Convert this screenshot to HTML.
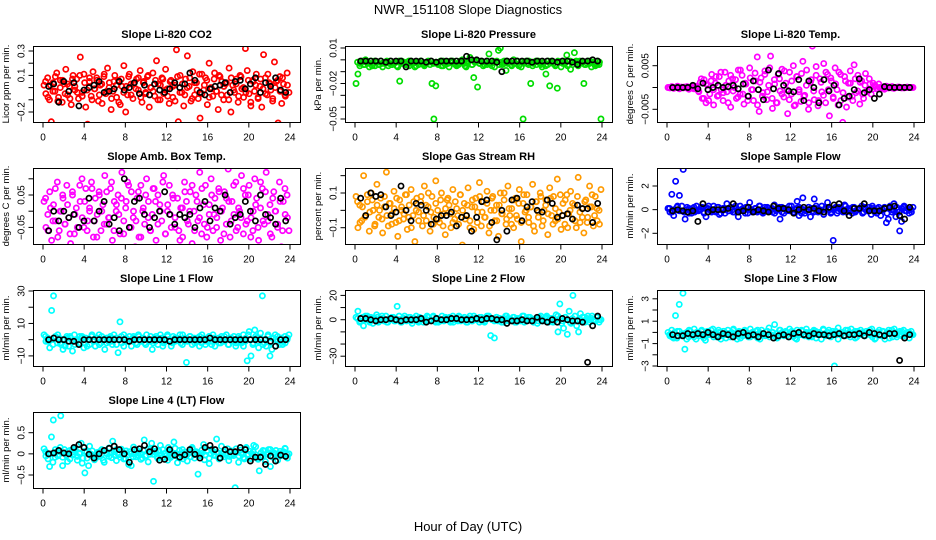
<!DOCTYPE html>
<html><head><meta charset="utf-8"><style>
body{margin:0;background:#fff;}
svg{display:block;font-family:"Liberation Sans",sans-serif;}
</style></head><body>
<svg id="chart" width="936" height="540" viewBox="0 0 936 540">
<text x="468" y="14" text-anchor="middle" font-size="13">NWR_151108  Slope Diagnostics</text>
<text x="468" y="531" text-anchor="middle" font-size="13">Hour of Day (UTC)</text>
</svg>
<script>
// ---- data (values in stated units) ----
const xTicks = [0,4,8,12,16,20,24];
const co2Vals = [2,-5,8,-10,-28,4,-3,12,-8,6,-12,3,15,-6,1,-14,10,-2,7,-9,25,-4,11,-16,-30,5,-7,13,-1,8,-11,2,-13,9,-5,16,4,-18,-3,10,-8,6,-14,1,18,-20,-6,11,3,-9,-32,7,-2,14,-12,5,-4,9,-16,0,12,-7,22,3,-10,8,-5,15,-1,-13,6,-8,2,31,-28,10,-4,-15,7,26,1,-11,13,-6,4,-9,-25,11,-2,8,-14,20,0,-7,12,-3,-18,9,5,-10,3,-6,16,-20,2,-4,7,-12,10,-1,-8,32,14,-5,-15,6,-3,11,-9,1,-16,27,8,-6,4,-2,-11,21,5,-29,9,-13,3,-7,12,-4];
const co2Core = [5,-8,2,-3,9,-11,0,6,-5,3,-9,7,1,-4,10,-7,4,-2,8,-10,-1,6,-6,3,11,-3,0,-9,5,2,-12,7,-4,1,9,-6,3,-1,8,-8,4,-5,10,0,-3,6,-10,2,7,-2,-7,5,1,-11,9,-4,3,-6,0,8,-9,4,-2,11,-5,2,6,-8,-1,7,-3,10,-6,1,4,-10,8,-2,3,-7,9,0,-4,6,-12,5,2,-8,7,-1,-5,11,3,-9,0,6,-3,8,-6,2];
const co2Black = [1,3,-12,5,-3,4,-15,-2,0,2,5,-4,-3,-1,5,-2,0,4,-5,2,-6,3,-2,-4,-1,4,0,3,12,6,-4,-6,-1,1,2,4,-4,5,6,-1,3,8,-4,4,1,8,-2,-4];
const presVals = [-20,-12,-5,-2,-4,0,-3,-6,-1,-3,-5,-2,-4,-1,-6,-3,-2,-5,-1,-4,-3,-2,-6,-18,-1,-3,-4,-2,-5,-1,-3,-6,-2,-4,-1,-3,-5,-2,-1,-4,-20,-50,-22,-3,-2,-5,-1,-4,-3,-6,-2,-1,-3,-5,-4,-2,0,-3,-6,-1,2,-4,-15,-2,-23,-3,-1,-5,-2,-4,5,-3,-1,-6,-2,8,10,-4,-1,-9,-3,-2,-5,0,-3,-1,-4,-6,-50,-2,-3,-1,-20,-5,-2,-4,-1,-3,-6,-2,-12,-4,-22,-1,-3,-5,-24,-2,-6,-1,-3,4,-4,-8,-2,6,-1,-5,-3,-2,-20,-4,-1,-3,-6,-2,-5,-1,-4,-50];
const presCore = [-2,-3,-1,-4,-2,-3,-5,-1,-2,-4,-3,-2,-1,-3,-4,-2,-5,-1,-3,-2,-4,-1,-3,-2,-5,-2,-1,-4,-3,-2,-1,-3,-2,-4,-1,-5,-2,-3,-1,-2,-4,-3,-1,-2,-5,-3,0,-4,-2,-1,-3,-2,-4,-1,-3,-5,-2,-1,-4,-2,-3,-1,-2,-4,-3,-1,-5,-2,-3,-1,-4,-2,-3,-1,-2,-4,-3,-5,-1,-2,-3,-4,-1,-2,-3,-2,-5,-1,-4,-2,-3,-1,-2,-4,-3,-1,-2,-3,-4,-2];
const presBlack = [-1,-1,-1,-1,-1,-2,-1,-1,-1,-6,-1,-1,-1,-2,-1,-2,-1,-1,-1,-1,-1,3,0,0,-1,-1,-1,-2,-10,-1,-1,-1,-1,-1,-2,-1,-1,-1,-1,-2,-1,-1,-2,-4,-1,-1,0,-1];
const tempVals = [0,-1,2,-2,0,3,-3,1,-1,0,2,-4,1,-2,0,3,-8,12,-25,18,-35,5,-15,30,-40,10,-20,25,-5,-30,35,-10,15,-45,20,0,-25,40,-15,28,-38,8,-20,45,-5,-30,15,70,-55,22,-12,38,-28,5,72,-48,18,-35,30,-8,42,-22,10,-60,35,-15,50,-40,25,-5,-32,60,-18,40,-50,12,95,-28,48,-42,20,-10,55,-35,30,-65,15,-22,45,-5,35,-30,-80,25,-45,10,38,-20,52,-12,28,-38,15,-25,32,-8,20,-15,10,5,-3,8,-2,0,-4,3,-1,0,2,-2,0,1,0,-1,0,0,1,0,0,0];
const tempCore = [0,1,-1,2,-2,0,1,-1,0,2,-3,1,-10,20,-25,8,-30,15,-5,25,-18,35,-12,5,-35,28,-8,18,-22,40,-15,10,-30,22,-5,33,-40,12,-20,30,-10,45,-25,8,-35,20,-15,38,-5,-28,15,-42,25,-10,32,-20,5,-35,18,-8,28,-30,12,-18,35,-5,22,-25,8,-40,30,-12,15,-22,10,-30,20,-8,12,-15,5,-10,8,-4,2,-3,0,1,-2,0,1,-1,0,0,1,0,-1,0,0,0];
const tempBlack = [0,0,0,0,5,-3,10,-5,0,5,0,2,5,-3,8,-20,15,-5,-28,40,-3,32,5,-8,-10,18,-30,15,0,-35,18,-8,5,-40,-25,-20,-5,20,-12,-5,-25,-15,2,0,0,0,0,0];
const ambVals = [3,-5,-1,6,-9,2,-3,9,-6,0,4,-4,8,-2,-10,5,-7,1,-12,3,10,-5,7,-3,0,9,-8,4,-1,6,-6,2,11,-4,-2,7,-9,3,0,5,-7,12,-3,1,9,-5,6,-2,-11,4,-8,8,0,-4,10,3,-6,-1,7,-9,5,2,-3,11,-7,0,8,-5,4,-2,14,-6,1,-8,9,3,-4,6,-10,0,5,-3,12,-7,2,8,-5,-1,10,-6,4,-2,7,-9,1,6,-4,13,-8,3,-1,9,-5,0,11,-7,5,-3,8,-2,-6,10,4,-9,1,7,-4,12,-3,2,-8,6,0,-5,9,-11,3,-1,5,-6];
const ambCore = [4,-6,1,-3,7,-8,0,5,-4,2,-7,6,-1,-5,8,-2,3,-6,1,7,-3,-8,5,0,-4,6,-2,9,-6,2,-1,4,-7,3,8,-5,0,-3,6,-8,1,5,-2,-6,7,3,-4,0,9,-7,2,-1,5,-5,4,-9,1,6,-3,0,8,-6,3,-2,7,-4,-8,2,5,-1,-5,6,0,-7,4,3,-3,8,-6,1,-2,7,-4,5,-8,0,2,-5,9,-3,6,-1,-7,4,0,-4,3,-6,7,-2];
const ambBlack = [-6,0,-3,0,-2,-1,-5,-3,4,-3,0,3,-4,-2,-6,10,-5,3,4,-1,-5,-2,0,6,-1,-4,-1,-2,-1,-5,1,3,-3,1,0,5,-4,-2,-1,3,0,-3,5,-1,-2,-4,4,-3];
const rhVals = [8,-10,3,-6,20,-3,5,-12,10,0,-8,15,-4,7,-13,2,22,-9,4,-2,11,-7,-15,6,0,-5,9,-11,3,12,-3,-18,7,-1,5,-9,14,-6,2,-12,8,-4,17,0,-7,10,-2,-14,6,3,-10,12,-5,1,-8,9,-20,4,-3,13,-6,2,-11,7,-1,16,-9,5,-4,11,-13,0,8,-6,3,-15,10,-2,6,-8,14,-3,1,-10,7,-5,12,-18,4,-1,9,-7,2,15,-12,5,-4,10,-9,0,6,-14,13,-3,8,-6,18,-1,-11,4,-8,9,-2,11,-5,3,-10,19,-7,1,-13,6,-4,14,2,-9,8,-6,0,12];
const rhCore = [5,-7,2,-4,9,-1,6,-9,3,0,-5,8,-3,4,-8,1,7,-6,2,-2,9,-4,-10,5,0,-6,8,-3,3,10,-1,-8,4,-5,6,-9,1,7,-2,-7,5,-3,9,0,-5,3,-10,6,2,-7,8,-1,-4,4,-9,7,0,-6,3,-2,10,-5,1,-8,6,-3,4,-7,9,0,-4,2,-9,5,-1,8,-6,3,-2,7,-8,1,-5,9,-3,6,-10,0,4,-6,8,-1,-4,5,-7,2,9,-3,1,-8];
const rhBlack = [7,-3,10,8,9,2,-3,-1,14,0,-6,4,3,0,-8,-5,-3,-3,-1,-9,-4,-3,-12,-4,5,6,-7,-17,0,-12,6,7,-6,2,5,0,-1,6,4,-4,-3,-2,-5,3,1,1,-7,4];
const sampVals = [1,-2,13,-5,24,3,12,-1,34,-8,2,-3,0,1,-2,3,-1,0,2,-3,-6,1,0,-2,3,-1,2,-4,0,1,-3,5,-1,2,0,-2,1,-6,3,0,-1,2,-3,6,0,-1,1,-2,3,0,-3,2,-1,1,0,-2,4,-1,0,-8,2,-3,1,0,-1,3,-2,0,7,-5,1,10,-3,0,2,-6,-1,9,1,-2,0,3,-4,1,6,0,-2,-26,1,-3,2,0,-1,4,-2,1,0,-3,2,-1,0,1,3,-2,0,-1,2,-4,1,0,-3,2,-5,0,1,-11,-8,3,-2,5,-6,0,-18,-10,2,-1,1,-3,0,2];
const sampCore = [1,-2,0,2,-1,3,-2,0,1,-3,2,-1,0,2,-2,1,3,-1,0,-2,2,-3,1,0,-1,2,-2,3,0,-1,1,-3,2,0,-2,1,-1,3,-2,0,2,-1,1,-3,0,2,-2,1,-1,3,0,-2,1,2,-3,0,-1,2,1,-2,3,0,-1,-2,2,1,-3,0,2,-1,1,-2,3,0,-1,2,-2,0,1,-3,2,-1,0,3,-2,1,-1,0,2,-3,1,0,-1,2,-2,1,3,-1,0,-2];
const sampBlack = [-1,0,-1,-2,-1,-10,5,-2,0,0,0,1,5,-2,-1,2,-2,0,-1,-2,3,1,1,0,-3,0,2,0,1,-1,-2,2,4,5,-1,-5,1,1,5,-1,-1,-1,1,2,3,-5,-8,2];
const l1Vals = [3,-1,1,-5,18,27,2,-2,1,-3,-6,0,2,-4,1,-7,3,-1,0,-2,2,-5,1,0,-3,2,-1,-4,1,3,-2,0,-6,1,-1,2,-3,0,1,-8,11,-2,3,0,-1,2,-4,1,0,-3,2,-1,1,-2,3,0,-1,-6,1,2,-3,0,1,-2,-1,3,0,-4,2,-1,1,0,-2,3,-1,-14,0,2,-3,1,-1,0,2,-2,1,-3,0,2,-1,3,-4,0,1,-2,-1,2,0,-3,1,-1,2,-4,0,1,-2,3,-1,-13,5,-10,-3,6,1,-5,4,27,-2,-4,3,-10,-6,1,0,2,-3,1,-1,-2,0,3];
const l1Core = [2,-1,0,-3,1,3,-2,0,-4,1,2,-1,-3,0,2,1,-2,-4,0,3,-1,1,-3,2,0,-2,1,-1,3,-3,0,2,-4,1,-1,0,2,-2,3,-1,1,-3,0,2,-2,-1,1,3,-4,0,2,-1,-2,1,0,3,-3,1,-1,2,0,-2,1,-4,3,0,-1,2,-3,1,0,-2,2,-1,3,-3,1,0,-2,2,-1,-4,1,3,0,-2,2,-1,1,-3,0,2,-2,1,3,-1,0,-3,2,1];
const l1Black = [0,1,0,0,-1,-1,-3,0,0,0,0,0,0,0,0,0,-1,0,0,0,0,0,0,0,-1,0,0,0,0,0,0,0,1,0,0,0,0,0,0,0,0,0,0,0,-1,-4,0,0];
const l2Vals = [2,7,-2,1,-5,3,0,-1,2,-3,1,4,-2,0,1,-1,3,-2,0,1,2,-1,11,0,-2,1,3,-1,0,2,-3,1,0,-1,2,0,-2,1,3,-1,0,2,-1,1,-2,0,3,-1,1,0,2,-1,-2,1,0,3,-1,0,2,-2,1,0,-1,3,0,1,-2,2,0,-1,1,3,-13,0,-15,2,-1,1,0,-2,3,1,-1,0,2,-2,1,0,-1,3,-2,1,0,2,-1,0,1,-3,2,0,-1,1,3,-2,0,1,-1,4,-10,13,-3,-7,2,-12,7,-3,20,-1,-5,-10,5,-1,2,0,3,-2,1,0,-1,2,-2,0];
const l2Core = [1,-1,2,0,3,-2,1,0,2,-1,3,0,-2,1,2,-1,0,3,-2,1,0,2,-1,1,3,-2,0,1,-1,2,0,3,-2,1,-1,0,2,1,-2,3,0,-1,2,1,0,-2,3,-1,1,0,2,-1,-2,3,1,0,-1,2,0,-2,1,3,-1,0,2,-2,1,0,3,-1,2,0,-2,1,-1,3,0,2,-1,1,-2,0,3,1,-1,2,0,-2,1,3,-1,0,2,-2,1,0,3,-1,2,0];
const l2Black = [1,1,0,-1,0,0,1,0,-1,0,0,0,1,-2,-1,1,0,0,1,1,0,0,0,1,0,1,1,0,0,-3,-1,-1,0,-1,-1,2,-1,-2,0,-2,1,0,-1,-1,-2,-35,-5,3];
const l3Vals = [0,-3,2,-5,15,1,25,-2,35,-15,0,-4,1,-2,3,-6,0,-1,2,-3,-7,1,0,-2,3,-1,-4,2,0,-3,1,-5,2,-1,0,3,-2,-6,1,0,-3,2,-1,-4,3,0,-2,1,-5,0,2,-1,-3,1,4,-2,0,7,-1,-4,2,0,-3,1,-2,3,-1,0,-5,2,0,-2,1,-3,3,-1,0,-4,2,1,-2,0,-6,3,-1,0,2,-3,1,-30,-2,4,-1,0,-3,2,-1,0,3,-2,1,-4,0,2,-1,-3,1,0,-2,3,-1,-5,0,2,-3,1,-6,0,2,-1,-4,3,-2,0,1,-3,2,-1,0,-5,1,-2];
const l3Core = [-2,-4,0,-5,1,-3,-1,-6,2,-2,-4,0,-3,1,-5,-1,-2,2,-4,-3,0,-6,1,-2,-1,-4,2,-3,0,-5,-1,1,-2,-4,0,-3,2,-6,-1,-2,1,-4,0,-3,-5,2,-1,-2,0,-4,1,-3,-6,-1,2,-2,0,-4,-3,1,-5,-1,-2,2,-3,0,-4,-1,1,-6,-2,0,-3,2,-4,-1,-5,1,-2,0,-3,-1,2,-4,-6,0,-2,1,-3,-1,-5,2,0,-4,-2,1,-3,-1,0,-2];
const l3Black = [-2,-3,-3,-1,-2,-1,-2,0,-2,-4,-1,-2,-4,-1,0,-3,-2,-4,-1,-2,-5,-3,-2,-4,-1,0,-2,-3,-1,-2,-2,-3,-2,-1,-3,-2,-2,-1,-3,0,-1,-2,-3,-1,-1,-25,-5,-2];
const l4Vals = [12,-5,0,-30,40,80,-8,5,-2,90,-28,10,-3,6,-12,3,-1,8,-6,2,25,-10,-45,4,-28,0,7,-4,-9,1,5,-2,-15,8,0,-6,3,30,-3,10,-1,-8,6,2,-12,-3,5,-28,-7,0,9,-4,2,-10,33,-5,12,-1,25,-65,3,-8,6,-2,10,0,-4,15,-9,3,28,-1,-6,8,0,-12,4,-3,2,-7,11,-2,5,-48,-5,1,22,-3,8,-10,0,6,-4,35,2,-8,-1,5,-2,12,-6,-3,0,-80,4,-5,9,-1,-12,15,-3,6,0,20,-2,-9,-40,3,-5,7,-1,10,-30,-6,2,8,-3,0,-4,5,12,-2,0];
const l4Core = [5,-12,0,-20,10,-5,15,-8,2,-18,8,-3,12,-15,0,-22,6,-10,18,-4,-14,3,-6,10,-20,1,14,-9,5,-16,-2,11,-12,7,-25,0,16,-7,3,-13,9,-4,-19,12,-1,6,-11,20,-8,2,-15,8,-5,13,-21,0,10,-6,-17,4,15,-10,1,-3,9,-14,6,-23,11,-2,3,-12,18,-7,0,-16,7,-4,12,-20,2,-9,14,-1,-11,5,17,-13,-6,8,-18,3,10,-8,0,-15,6,-3,13,-10];
const l4Black = [0,2,8,2,0,15,22,15,-1,-10,0,8,13,18,10,0,-20,10,12,20,5,12,-15,-13,10,-3,-8,-2,10,-1,-10,15,20,10,-10,10,5,5,15,10,-17,-8,-8,-25,-5,-17,-3,-6];

const panels = [
 {t:"Slope Li-820 CO2",y:"Licor ppm per min.",c:"#ff0000",u:0.01,v:co2Vals,k:co2Core,b:co2Black,cal:[0.3,5,-0.2,66],ticks:[-0.2,-0.1,0,0.1,0.2,0.3],lab:[[0.3,"0.3"],[0.1,"0.1"],[-0.2,"\u22120.2"]]},
 {t:"Slope Li-820 Pressure",y:"kPa per min.",c:"#00dd00",u:0.001,v:presVals,k:presCore,b:presBlack,cal:[0.01,2,-0.05,73],ticks:[-0.05,-0.04,-0.03,-0.02,-0.01,0,0.01],lab:[[0.01,"0.01"],[-0.02,"\u22120.02"],[-0.05,"\u22120.05"]]},
 {t:"Slope Li-820 Temp.",y:"degrees C per min.",c:"#ff00ff",u:0.0001,v:tempVals,k:tempCore,b:tempBlack,cal:[0.005,19.7,-0.005,63.3],ticks:[-0.005,0,0.005],lab:[[0.005,"0.005"],[-0.005,"\u22120.005"]]},
 {t:"Slope Amb. Box Temp.",y:"degrees C per min.",c:"#ff00ff",u:0.01,v:ambVals,k:ambCore,b:ambBlack,cal:[0.05,27,-0.05,59.4],ticks:[-0.05,0,0.05,0.1],lab:[[0.05,"0.05"],[-0.05,"\u22120.05"]]},
 {t:"Slope Gas Stream RH",y:"percent per min.",c:"#ff9a00",u:0.01,v:rhVals,k:rhCore,b:rhBlack,cal:[0.1,25,-0.1,59.7],ticks:[-0.1,0,0.1,0.2],lab:[[0.1,"0.1"],[-0.1,"\u22120.1"]]},
 {t:"Slope Sample Flow",y:"ml/min per min.",c:"#0000ff",u:0.1,v:sampVals,k:sampCore,b:sampBlack,cal:[2,18,-2,65.3],ticks:[-2,0,2],lab:[[2,"2"],[0,"0"],[-2,"\u22122"]]},
 {t:"Slope Line 1 Flow",y:"ml/min per min.",c:"#00ffff",u:1,v:l1Vals,k:l1Core,b:l1Black,cal:[30,1,-10,65.9],ticks:[-10,0,10,20,30],lab:[[30,"30"],[10,"10"],[-10,"\u221210"]]},
 {t:"Slope Line 2 Flow",y:"ml/min per min.",c:"#00ffff",u:1,v:l2Vals,k:l2Core,b:l2Black,cal:[20,5.4,-30,66.2],ticks:[-30,-20,-10,0,10,20],lab:[[20,"20"],[0,"0"],[-30,"\u221230"]]},
 {t:"Slope Line 3 Flow",y:"ml/min per min.",c:"#00ffff",u:0.1,v:l3Vals,k:l3Core,b:l3Black,cal:[3,8.8,-3,76],ticks:[-3,-2,-1,0,1,2,3],lab:[[3,"3"],[1,"1"],[-1,"\u22121"],[-3,"\u22123"]]},
 {t:"Slope Line 4 (LT) Flow",y:"ml/min per min.",c:"#00ffff",u:0.01,v:l4Vals,k:l4Core,b:l4Black,cal:[0.5,20.7,-0.5,63],ticks:[-0.5,0,0.5],lab:[[0.5,"0.5"],[0,"0"],[-0.5,"\u22120.5"]]}
];
const svg = document.getElementById('chart');
const NS = 'http://www.w3.org/2000/svg';
function mk(tag, attrs, parent){const e=document.createElementNS(NS,tag);for(const k in attrs)e.setAttribute(k,attrs[k]);(parent||svg).appendChild(e);return e;}
const BW=267,BH=76;
panels.forEach((p,i)=>{
  const col=i%3,row=Math.floor(i/3);
  const L=33+312*col, T=46+122*row;
  const g=mk('g',{});
  
  
  const xs=h=>L+10+h*(247/24);
  const [v1,p1,v2,p2]=p.cal;
  const ys=v=>T+p1+(v-v1)*(p2-p1)/(v2-v1);
  const tt=mk('text',{x:L+BW/2,y:T-8,'text-anchor':'middle','font-size':11,'font-weight':'bold'},g);tt.textContent=p.t;
  
  
  const cp=mk('clipPath',{id:'cp'+i},g);mk('rect',{x:L,y:T,width:BW,height:BH},cp);
  const pts=mk('g',{'clip-path':'url(#cp'+i+')'},g);
  const m=p.k.length;
  p.k.forEach((val,k)=>{
    const h=0.25+k*23.5/(m-1);
    const c=mk('circle',{cx:xs(h),cy:ys(val*p.u),r:2.6,fill:'none',stroke:p.c,'stroke-width':1.7},pts);
    
    
  });
  const n=p.v.length;
  p.v.forEach((val,k)=>{
    const h=0.1+k*23.8/(n-1);
    const c=mk('circle',{cx:xs(h),cy:ys(val*p.u),r:2.6,fill:'none',stroke:p.c,'stroke-width':1.7},pts);
    
    
  });
  p.b.forEach((val,k)=>{
    const h=0.55+k*0.49;
    const c=mk('circle',{cx:xs(h),cy:ys(val*p.u),r:2.6,fill:'none',stroke:'#000','stroke-width':1.7},pts);
    
    
  });
  const bx=mk('rect',{x:L+0.5,y:T+0.5,width:BW,height:BH,fill:'none',stroke:'#000','stroke-width':1},g);
  
  
  const yb=T+BH+0.5;
  mk('line',{x1:xs(0),x2:xs(24),y1:yb,y2:yb,stroke:'#000'},g);
  xTicks.forEach(t=>{
    mk('line',{x1:xs(t),x2:xs(t),y1:yb,y2:yb+5,stroke:'#000'},g);
    const lt=mk('text',{x:xs(t),y:yb+18,'text-anchor':'middle','font-size':10},g);lt.textContent=t;
    
    
  });
  const xl=L+0.5;
  mk('line',{x1:xl,x2:xl,y1:ys(p.ticks[0]),y2:ys(p.ticks[p.ticks.length-1]),stroke:'#000'},g);
  p.ticks.forEach(t=>mk('line',{x1:xl-5,x2:xl,y1:ys(t),y2:ys(t),stroke:'#000'},g));
  p.lab.forEach(([v,s])=>{
    const yy=ys(v);
    const lt=mk('text',{x:xl-9,y:yy,'text-anchor':'middle','font-size':10,transform:`rotate(-90 ${xl-9} ${yy})`},g);lt.textContent=s;
    
    
  });
  const yc=T+BH/2, xt=L-24;
  const yt=mk('text',{x:xt,y:yc,'text-anchor':'middle','font-size':9.5,transform:`rotate(-90 ${xt} ${yc})`},g);yt.textContent=p.y;
  
  
});
</script>
</body></html>
